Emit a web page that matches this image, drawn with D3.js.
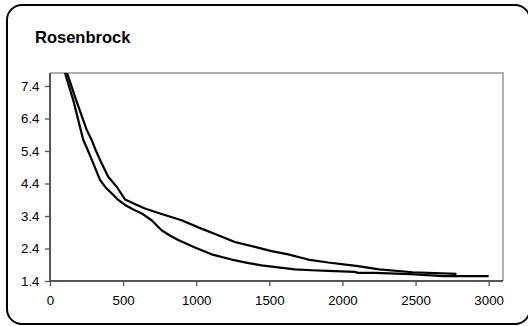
<!DOCTYPE html>
<html>
<head>
<meta charset="utf-8">
<script src="https://cdn.jsdelivr.net/npm/d3@7"></script>
<style>
  html, body { margin: 0; padding: 0; background: #fff; }
  svg { display: block; }
</style>
</head>
<body>
<svg id="chart" width="528" height="326"></svg>
<script>
// ---- data ----
const title = "Rosenbrock";
const xTicks = [0, 500, 1000, 1500, 2000, 2500, 3000];
const yTicks = [1.4, 2.4, 3.4, 4.4, 5.4, 6.4, 7.4];

// lower curve (drops faster)
const seriesA_t = [90, 102, 160, 210, 228, 258, 296, 342, 380, 421, 460, 513, 570, 627, 695, 763, 820, 877, 991, 1105, 1242, 1350, 1447, 1560, 1674, 1790, 1902, 2084, 2107, 2221, 2465, 2693, 3000];
const seriesA_v = [8.0, 7.81, 6.95, 6.05, 5.74, 5.43, 5.02, 4.51, 4.28, 4.10, 3.92, 3.74, 3.60, 3.48, 3.27, 2.96, 2.80, 2.66, 2.43, 2.22, 2.06, 1.96, 1.88, 1.82, 1.76, 1.73, 1.71, 1.68, 1.65, 1.65, 1.61, 1.55, 1.55];

// upper curve
const seriesB_t = [95, 116, 180, 251, 285, 312, 353, 398, 456, 513, 580, 649, 763, 900, 1014, 1150, 1264, 1401, 1515, 1629, 1765, 1902, 2107, 2250, 2480, 2780];
const seriesB_v = [8.0, 7.81, 6.95, 6.05, 5.74, 5.43, 5.02, 4.61, 4.30, 3.91, 3.77, 3.63, 3.46, 3.27, 3.05, 2.81, 2.60, 2.45, 2.32, 2.22, 2.06, 1.97, 1.86, 1.76, 1.67, 1.62];

// ---- layout ----
const svg = d3.select("#chart");
const plot = { left: 50, top: 73, right: 503, bottom: 281 };

const x = d3.scaleLinear().domain([0, 3098]).range([plot.left, plot.right]);
const y = d3.scaleLinear().domain([1.4, 7.8]).range([plot.bottom, plot.top]);

// outer frame
svg.append("rect")
  .attr("x", 7).attr("y", 5)
  .attr("width", 523).attr("height", 319)
  .attr("rx", 15).attr("ry", 15)
  .attr("fill", "#fff")
  .attr("stroke", "#000")
  .attr("stroke-width", 2);

// title
svg.append("text")
  .attr("x", 35).attr("y", 43)
  .attr("font-family", "'Liberation Sans', Arial, sans-serif")
  .attr("font-weight", "bold")
  .attr("font-size", 16.5)
  .attr("fill", "#000")
  .text(title);

// plot border top & right
svg.append("path")
  .attr("d", `M${plot.left},${plot.top}H${plot.right}V${plot.bottom}`)
  .attr("fill", "none")
  .attr("stroke", "#b0b0b0")
  .attr("stroke-width", 2);

// clip
svg.append("clipPath").attr("id", "clip")
  .append("rect")
  .attr("x", plot.left).attr("y", plot.top)
  .attr("width", plot.right - plot.left).attr("height", plot.bottom - plot.top);

const line = d3.line().x(d => x(d[0])).y(d => y(d[1]));
const A = seriesA_t.map((t, i) => [t, seriesA_v[i]]);
const B = seriesB_t.map((t, i) => [t, seriesB_v[i]]);

const g = svg.append("g").attr("clip-path", "url(#clip)");
[B, A].forEach(s => {
  g.append("path")
    .datum(s)
    .attr("d", line)
    .attr("fill", "none")
    .attr("stroke", "#000")
    .attr("stroke-width", 2.2)
    .attr("stroke-linejoin", "round");
});

// axes
const font = "'Liberation Sans', Arial, sans-serif";
const yAxis = svg.append("g")
  .attr("transform", `translate(${plot.left},0)`)
  .call(d3.axisLeft(y).tickValues(yTicks).tickFormat(d3.format(".1f")).tickSize(5).tickSizeOuter(0).tickPadding(5.5));
const xAxis = svg.append("g")
  .attr("transform", `translate(0,${plot.bottom})`)
  .call(d3.axisBottom(x).tickValues(xTicks).tickFormat(d3.format("d")).tickSize(5).tickSizeOuter(0).tickPadding(10));

[yAxis, xAxis].forEach(a => {
  a.select(".domain").attr("stroke", "#555").attr("stroke-width", 2);
  a.selectAll(".tick line").attr("stroke", "#555").attr("stroke-width", 1.3);
  a.selectAll("text").attr("font-family", font).attr("font-size", 13.3).attr("fill", "#000");
});
yAxis.select(".domain").attr("d", `M0,${plot.top}V${plot.bottom}`);
xAxis.select(".domain").attr("d", `M${plot.left},0H${plot.right}`);
</script>
</body>
</html>
